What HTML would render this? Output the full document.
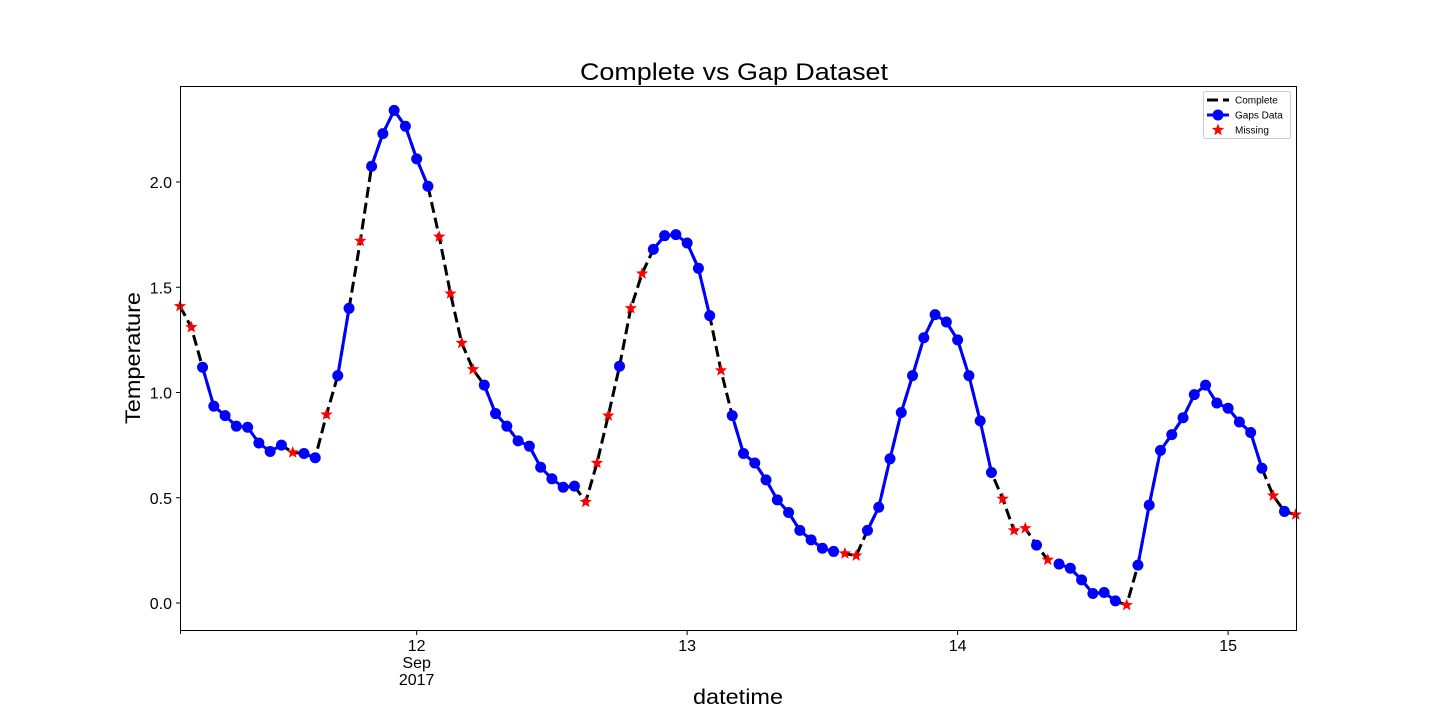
<!DOCTYPE html>
<html><head><meta charset="utf-8"><style>
html,body{margin:0;padding:0;background:#fff;}
svg{display:block;font-family:"Liberation Sans","DejaVu Sans",sans-serif;}
</style></head><body>
<svg id="chart" width="1440" height="720" viewBox="0 0 1440 720">
<rect x="0" y="0" width="1440" height="720" fill="#fff"/>
<text x="734" y="80" font-size="24" text-anchor="middle" textLength="308" lengthAdjust="spacingAndGlyphs">Complete vs Gap Dataset</text>
<text x="140" y="358" font-size="21" text-anchor="middle" textLength="132" lengthAdjust="spacingAndGlyphs" transform="rotate(-90 140 358)">Temperature</text>
<text x="738" y="704" font-size="21" text-anchor="middle" textLength="90" lengthAdjust="spacingAndGlyphs">datetime</text>
<g id="axes"></g>
<g id="plot"></g>
<rect x="180.5" y="86.5" width="1116" height="544" fill="none" stroke="#000" stroke-width="1"/>
<g>
<rect x="1203.5" y="91.5" width="87" height="47" rx="2" fill="#fff" stroke="#ccc"/>
<g>
<line x1="1207" y1="100" x2="1229" y2="100" stroke="#000" stroke-width="3" stroke-dasharray="11 5"/>
<text x="1235" y="103.5" font-size="10">Complete</text></g>
<g>
<line x1="1207" y1="115" x2="1229" y2="115" stroke="#0000ff" stroke-width="3"/>
<circle cx="1218" cy="115" r="5.5" fill="#0000ff"/>
<text x="1235" y="118.5" font-size="10">Gaps Data</text></g>
<g>
<polygon id="legstar" fill="#ff0000"/>
<text x="1235" y="133.5" font-size="10">Missing</text></g>
</g>
</svg>
<script>
const values = [1.41,1.31,1.12,0.935,0.89,0.84,0.835,0.76,0.72,0.75,0.715,0.71,0.69,0.895,1.08,1.40,1.72,2.075,2.23,2.34,2.265,2.11,1.98,1.74,1.47,1.235,1.11,1.035,0.90,0.84,0.77,0.745,0.645,0.59,0.55,0.555,0.48,0.665,0.89,1.125,1.40,1.565,1.68,1.745,1.75,1.71,1.59,1.365,1.105,0.89,0.71,0.665,0.585,0.49,0.43,0.345,0.30,0.26,0.245,0.235,0.225,0.345,0.455,0.685,0.905,1.08,1.26,1.37,1.335,1.25,1.08,0.865,0.62,0.495,0.345,0.355,0.275,0.205,0.185,0.165,0.11,0.045,0.05,0.01,-0.01,0.18,0.465,0.725,0.80,0.88,0.99,1.035,0.95,0.925,0.86,0.81,0.64,0.51,0.435,0.42];
const missing = [0,1,10,13,16,23,24,25,26,36,37,38,40,41,48,59,60,73,74,75,77,84,97,99];
const yTicks = [0.0,0.5,1.0,1.5,2.0];
const yTickLabels = ["0.0","0.5","1.0","1.5","2.0"];
const xTickHours = [21,45,69,93];
const xTickLabels = [["12","Sep","2017"],["13"],["14"],["15"]];
const NS="http://www.w3.org/2000/svg";
function X(i){return 180+i*11.27;}
function Y(v){return 603-v*210.5;}
function mk(tag,attrs,parent){const e=document.createElementNS(NS,tag);for(const k in attrs)e.setAttribute(k,attrs[k]);parent.appendChild(e);return e;}
function starPts(cx,cy,R){const r=R*0.42;let p=[];for(let k=0;k<10;k++){const a=-Math.PI/2+k*Math.PI/5;const rr=k%2?r:R;p.push((cx+rr*Math.cos(a)).toFixed(1)+","+(cy+rr*Math.sin(a)).toFixed(1));}return p.join(" ");}
document.getElementById('legstar').setAttribute('points',starPts(1218,130,6.5));
const axes=document.getElementById('axes');
yTicks.forEach((v,k)=>{
  const t=mk('line',{x1:176,x2:180,y1:Y(v),y2:Y(v),stroke:'#000'},axes);
  
  
  const l=mk('text',{x:172,y:Y(v)+6,'font-size':16,'text-anchor':'end'},axes);
  l.textContent=yTickLabels[k];
  
  
});
xTickHours.forEach((h,k)=>{
  const x=X(h);
  const t=mk('line',{x1:x,x2:x,y1:631,y2:635,stroke:'#000'},axes);
  
  
  xTickLabels[k].forEach((s,j)=>{
    const l=mk('text',{x:x,y:651+j*17,'font-size':16,'text-anchor':'middle'},axes);
    l.textContent=s;
    
    
  });
});
const mt=mk('line',{x1:180.5,x2:180.5,y1:631,y2:634,stroke:'#000'},axes);


const plot=document.getElementById('plot');
const comp=mk('polyline',{points:values.map((v,i)=>X(i)+","+Y(v)).join(" "),fill:'none',stroke:'#000','stroke-width':3,'stroke-dasharray':'11 5'},plot);


const miss=new Set(missing);
let seg=[];
function flush(){if(seg.length>1){const p=mk('polyline',{points:seg.join(" "),fill:'none',stroke:'#0000ff','stroke-width':3,'stroke-linejoin':'round'},plot);

}seg=[];}
values.forEach((v,i)=>{if(miss.has(i))flush();else seg.push(X(i)+","+Y(v));});flush();
values.forEach((v,i)=>{if(!miss.has(i)){const c=mk('circle',{cx:X(i),cy:Y(v),r:5.5,fill:'#0000ff'},plot);

}});
missing.forEach(i=>{const s=mk('polygon',{points:starPts(X(i),Y(values[i]),6.5),fill:'#ff0000'},plot);

});
</script>
</body></html>
